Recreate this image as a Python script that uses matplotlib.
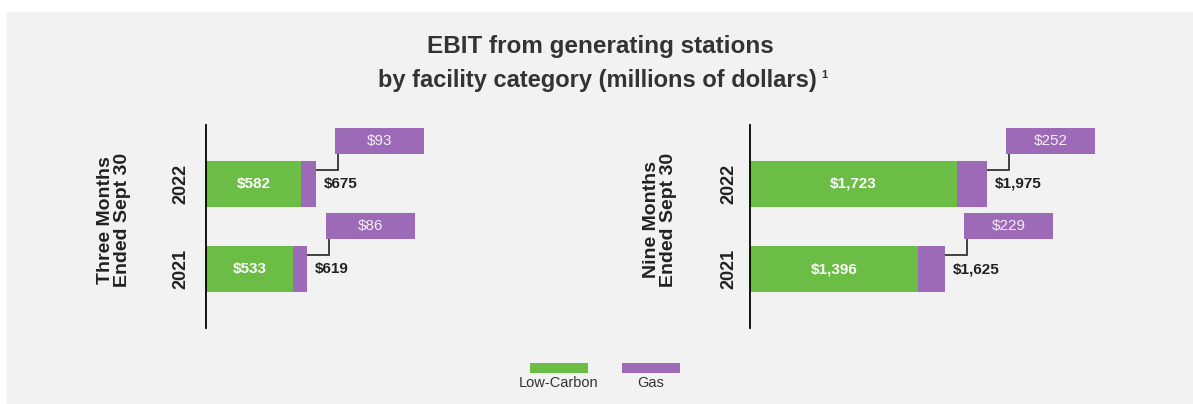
import matplotlib.pyplot as plt
from matplotlib.patches import Rectangle

plt.rcParams['font.family'] = ['Liberation Sans', 'DejaVu Sans']

# data
periods = ['Three Months\nEnded Sept 30', 'Nine Months\nEnded Sept 30']
years = ['2021', '2022']
low_carbon = [[533, 582], [1396, 1723]]
gas = [[86, 93], [229, 252]]
totals = [[619, 675], [1625, 1975]]

GREEN = '#6cbd45'
PURPLE = '#9c6ab7'
BG = '#f2f2f2'
TXT = '#222222'

W, H = 1193, 404
fig = plt.figure(figsize=(W / 100, H / 100), dpi=100, facecolor='white')
fig.patches.append(Rectangle((7 / W, 0), 1 - 7 / W, 1 - 12 / H, transform=fig.transFigure,
                             facecolor=BG, edgecolor='none', zorder=-10))


def fx(px):
    return px / W


def fy(py):
    return 1 - py / H


# panel layout in pixels: axis x, right edge, px per unit, label x, year pad
panels = [
    dict(x0=206, x1=470, scale=0.163, lab_x=114, pad=12),
    dict(x0=750, x1=1120, scale=0.12, lab_x=660, pad=9),
]
top, bottom = 125, 328
ylo, yhi = -0.694, 1.694
bar_h = 0.55
box_dy = 0.51
box_h = 0.306

for i, p in enumerate(panels):
    ax = fig.add_axes([fx(p['x0']), fy(bottom), (p['x1'] - p['x0']) / W, (bottom - top) / H])
    ax.set_facecolor('none')
    s = p['scale']
    ax.set_xlim(0, (p['x1'] - p['x0']) / s)
    ax.set_ylim(ylo, yhi)
    for sp in ['top', 'right', 'bottom']:
        ax.spines[sp].set_visible(False)
    ax.spines['left'].set_color('black')
    ax.spines['left'].set_linewidth(1.3)
    ax.set_xticks([])
    ypos = list(range(len(years)))
    ax.set_yticks(ypos)
    ax.set_yticklabels(years, rotation=90, va='center', fontsize=13, fontweight='bold', color=TXT)
    ax.tick_params(axis='y', length=0, pad=p['pad'])

    ax.barh(ypos, low_carbon[i], height=bar_h, color=GREEN, zorder=2)
    ax.barh(ypos, gas[i], left=low_carbon[i], height=bar_h, color=PURPLE, zorder=2)

    gap = 19 / s
    box_w = 89 / s
    for y, lc, g, t in zip(ypos, low_carbon[i], gas[i], totals[i]):
        ax.text(lc / 2, y, f'${lc:,}', ha='center', va='center', color='white',
                fontsize=11, fontweight='bold', zorder=3)
        ax.text(t + 8 / s, y, f'${t:,}', ha='left', va='center', color=TXT,
                fontsize=11, fontweight='bold')
        # gas callout box
        bx = t + gap
        ax.barh(y + box_dy, box_w, left=bx, height=box_h, color=PURPLE, zorder=2)
        ax.text(bx + box_w / 2, y + box_dy, f'${g:,}', ha='center', va='center',
                color='#f6eef8', fontsize=11, zorder=3)
        ly = y + 0.165
        cx = bx + 3 / s
        ax.plot([t, cx, cx], [ly, ly, y + box_dy - box_h / 2], color='#333333',
                lw=1.3, solid_joinstyle='miter', zorder=1)

    fig.text(fx(p['lab_x']), fy(220), periods[i], rotation=90, ha='center', va='center',
             fontsize=14, fontweight='bold', color=TXT, multialignment='center', linespacing=0.95)

# title
fig.text(fx(600), fy(47), 'EBIT from generating stations', ha='center', va='center',
         fontsize=17.5, fontweight='bold', color='#333333')
fig.text(fx(597), fy(80), 'by facility category (millions of dollars)', ha='center', va='center',
         fontsize=17, fontweight='bold', color='#333333')
fig.text(fx(824), fy(75), '1', ha='center', va='center', fontsize=8, fontweight='bold', color='#333333')

# legend
legend_items = [('Low-Carbon', GREEN), ('Gas', PURPLE)]
for (name, col), lx in zip(legend_items, [559, 651]):
    fig.patches.append(Rectangle((fx(lx - 29), fy(373)), 58 / W, 10 / H, transform=fig.transFigure,
                                 facecolor=col, edgecolor='none'))
    fig.text(fx(lx), fy(383), name, ha='center', va='center', fontsize=10.5, color='#333333')

fig.savefig('out.png', dpi=100, facecolor=fig.get_facecolor())
